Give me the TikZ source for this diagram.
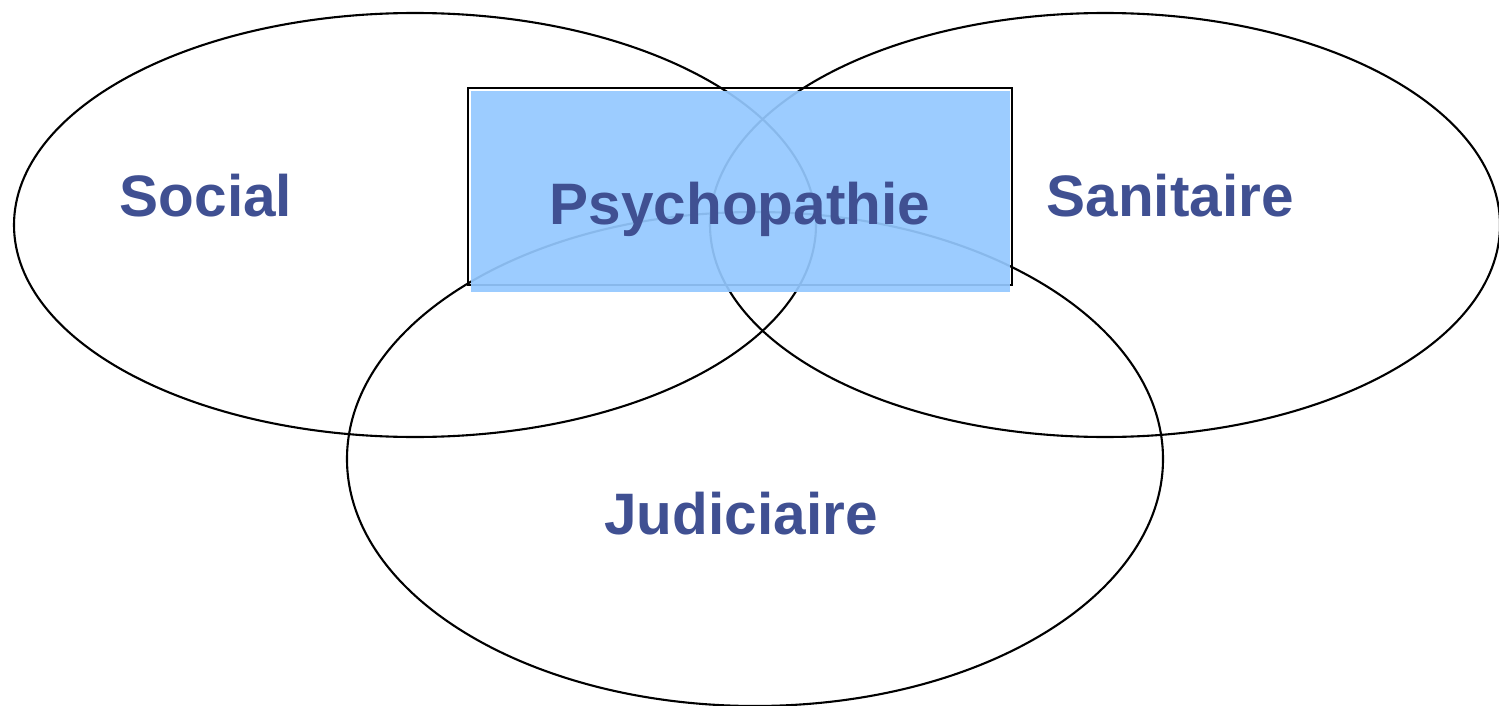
\documentclass[tikz,border=0pt]{standalone}
\usepackage{fontspec}
\setmainfont{Liberation Sans}
\usetikzlibrary{shapes.geometric}

\definecolor{champ}{RGB}{64,80,146}
\definecolor{cadre}{RGB}{148,200,255}

\begin{document}
\begin{tikzpicture}[x=1pt,y=-1pt,line width=2.1pt,
                    inner sep=0pt,outer sep=0pt]
  \tikzstyle{every domaine}=[ellipse,draw=black,fill=none]
  \tikzstyle{titre}=[text=champ,anchor=base,font=\fontsize{58.5}{70}\selectfont\bfseries]

  \useasboundingbox (0,0) rectangle (1499,706);

  % les trois domaines
  \node[every domaine,minimum width=802pt,minimum height=424pt] (social)    at (415,225) {};
  \node[every domaine,minimum width=790pt,minimum height=424pt] (sanitaire) at (1105,225) {};
  \node[every domaine,minimum width=816pt,minimum height=494pt] (judic)     at (755,459) {};

  % le cadre central
  \node[draw=black,minimum width=544pt,minimum height=197pt] (cadre) at (740,186.5) {};
  \node[fill=cadre,fill opacity=0.92,minimum width=539pt,minimum height=201pt] (fond)
       at (740.5,191.5) {};

  \node[titre] (tsocial)    at (206,216)  {Social};
  \node[titre] (tpsycho)    at (740,224)  {Psychopathie};
  \node[titre] (tsanitaire) at (1170,216) {Sanitaire};
  \node[titre] (tjudic)     at (741,534)  {Judiciaire};

\end{tikzpicture}
\end{document}
